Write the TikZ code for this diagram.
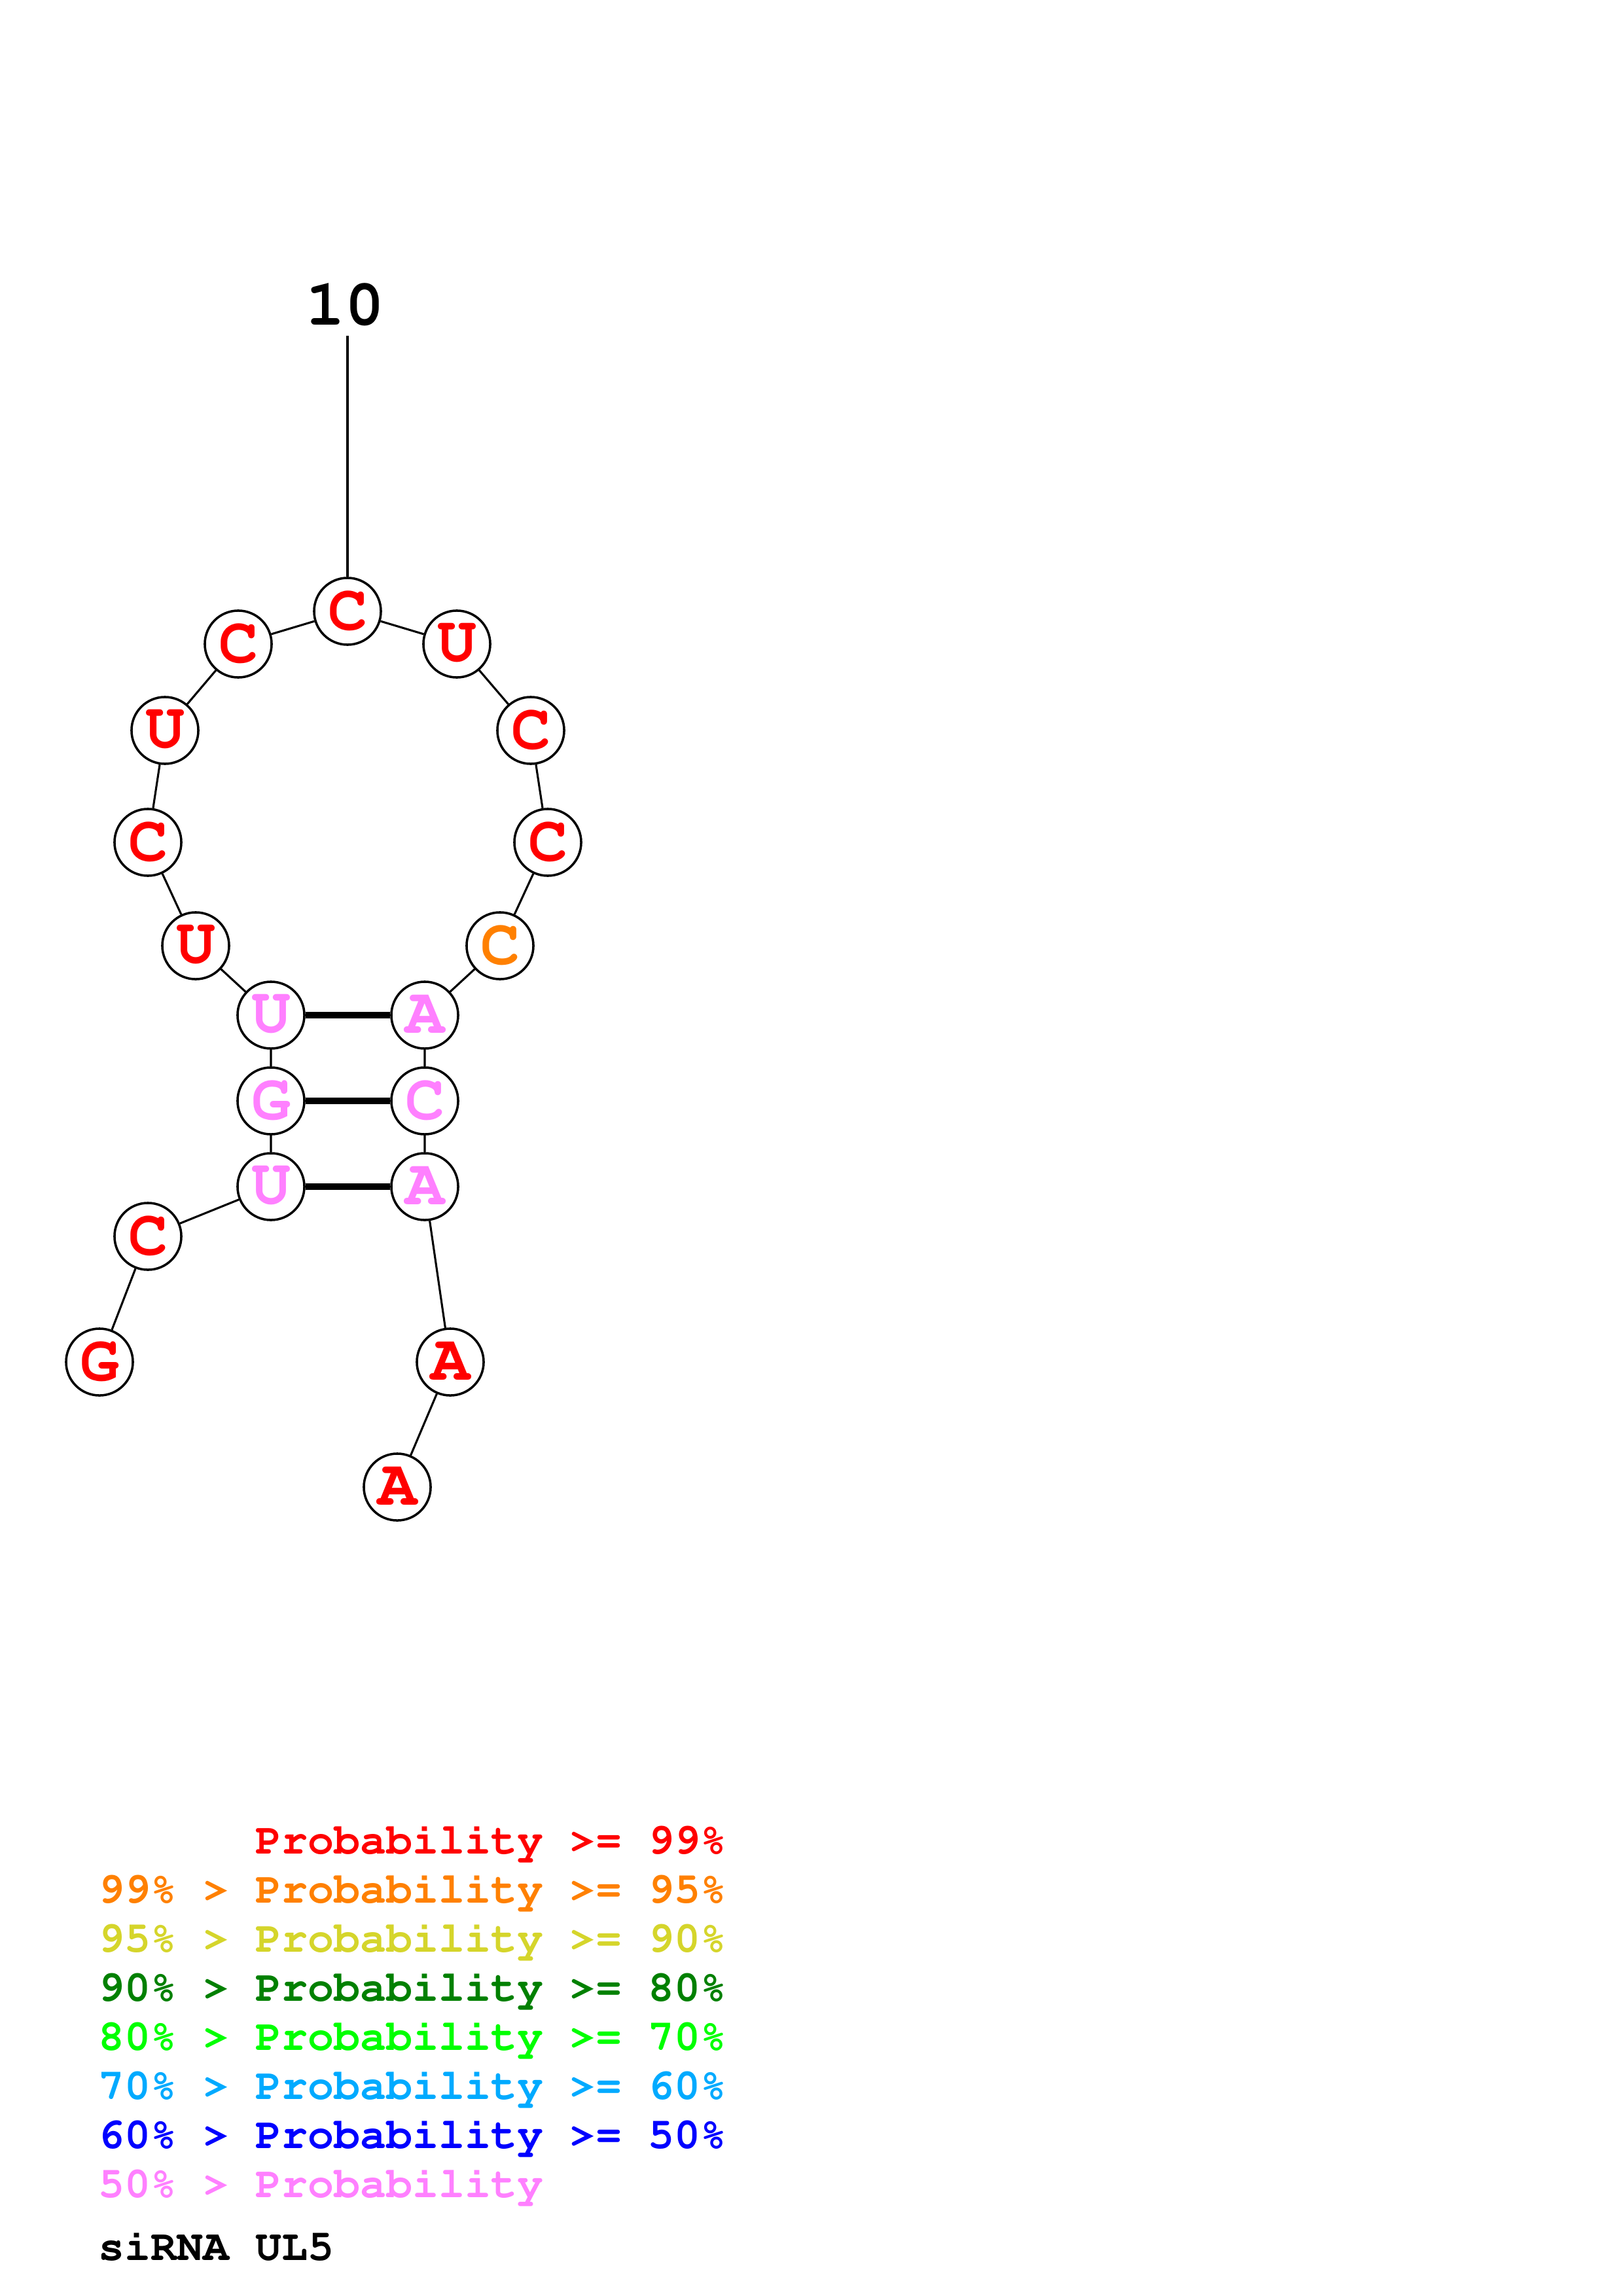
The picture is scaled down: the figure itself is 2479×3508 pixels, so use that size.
\documentclass[tikz,border=0pt]{standalone}
\usepackage[T1]{fontenc}
\usepackage{courier}
\usepackage{tikz}
\usetikzlibrary{calc}

\definecolor{pred}{RGB}{255,0,0}
\definecolor{porange}{RGB}{255,128,0}
\definecolor{pyellow}{RGB}{213,213,43}
\definecolor{pdkgreen}{RGB}{0,128,0}
\definecolor{pgreen}{RGB}{0,255,0}
\definecolor{pltblue}{RGB}{0,170,255}
\definecolor{pblue}{RGB}{0,0,255}
\definecolor{ppink}{RGB}{255,128,255}

\newcommand{\basefont}{\fontsize{24}{28}\ttfamily\bfseries\selectfont}
\newcommand{\legfont}{\fontsize{16}{19}\ttfamily\bfseries\selectfont}

\tikzset{
  nt/.style={circle, draw=black, line width=0.85pt, fill=white, inner sep=0pt,
    minimum size=24.5pt, font=\basefont},
  backbone/.style={line width=0.75pt},
  bond/.style={line width=2.6pt},
  legline/.style={anchor=base west, inner sep=0pt, font=\legfont}
}

\begin{document}
\begin{tikzpicture}[x=0.24pt, y=-0.24pt]
\useasboundingbox (0,0) rectangle (2479,3508);

% position label
\node[anchor=base, inner sep=0pt, font=\basefont] (lab10) at (527,497) {10};
\coordinate (stemtop) at (531,513);

% nucleotides
\node[nt, text=pred] (n1) at (152,2081) {G};
\node[nt, text=pred] (n2) at (226,1889) {C};
\node[nt, text=ppink] (n3) at (414,1813) {U};
\node[nt, text=ppink] (n4) at (414,1682) {G};
\node[nt, text=ppink] (n5) at (414,1551) {U};
\node[nt, text=pred] (n6) at (299,1445) {U};
\node[nt, text=pred] (n7) at (226,1287) {C};
\node[nt, text=pred] (n8) at (252,1116) {U};
\node[nt, text=pred] (n9) at (364,984) {C};
\node[nt, text=pred] (n10) at (531,934) {C};
\node[nt, text=pred] (n11) at (698,984) {U};
\node[nt, text=pred] (n12) at (811,1116) {C};
\node[nt, text=pred] (n13) at (837,1287) {C};
\node[nt, text=porange] (n14) at (764,1445) {C};
\node[nt, text=ppink] (n15) at (649,1551) {A};
\node[nt, text=ppink] (n16) at (649,1682) {C};
\node[nt, text=ppink] (n17) at (649,1813) {A};
\node[nt, text=pred] (n18) at (688,2081) {A};
\node[nt, text=pred] (n19) at (607,2272) {A};

% backbone
\draw[line width=0.9pt] (stemtop) -- (n10);
\draw[backbone] (n1) -- (n2) -- (n3) -- (n4) -- (n5) -- (n6) -- (n7) -- (n8)
  -- (n9) -- (n10) -- (n11) -- (n12) -- (n13) -- (n14) -- (n15) -- (n16)
  -- (n17) -- (n18) -- (n19);

% base pairs
\draw[bond] (n3) -- (n17);
\draw[bond] (n4) -- (n16);
\draw[bond] (n5) -- (n15);

% legend
\node[legline, text=pred] (leg1) at (150,2832) {\hphantom{99\% > }Probability >= 99\%};
\node[legline, text=porange] (leg2) at (150,2907) {99\% > Probability >= 95\%};
\node[legline, text=pyellow] (leg3) at (150,2982) {95\% > Probability >= 90\%};
\node[legline, text=pdkgreen] (leg4) at (150,3057) {90\% > Probability >= 80\%};
\node[legline, text=pgreen] (leg5) at (150,3132) {80\% > Probability >= 70\%};
\node[legline, text=pltblue] (leg6) at (150,3207) {70\% > Probability >= 60\%};
\node[legline, text=pblue] (leg7) at (150,3282) {60\% > Probability >= 50\%};
\node[legline, text=ppink] (leg8) at (150,3357) {50\% > Probability};
\node[legline, text=black] (title) at (150,3453) {siRNA UL5};
\end{tikzpicture}
\end{document}
